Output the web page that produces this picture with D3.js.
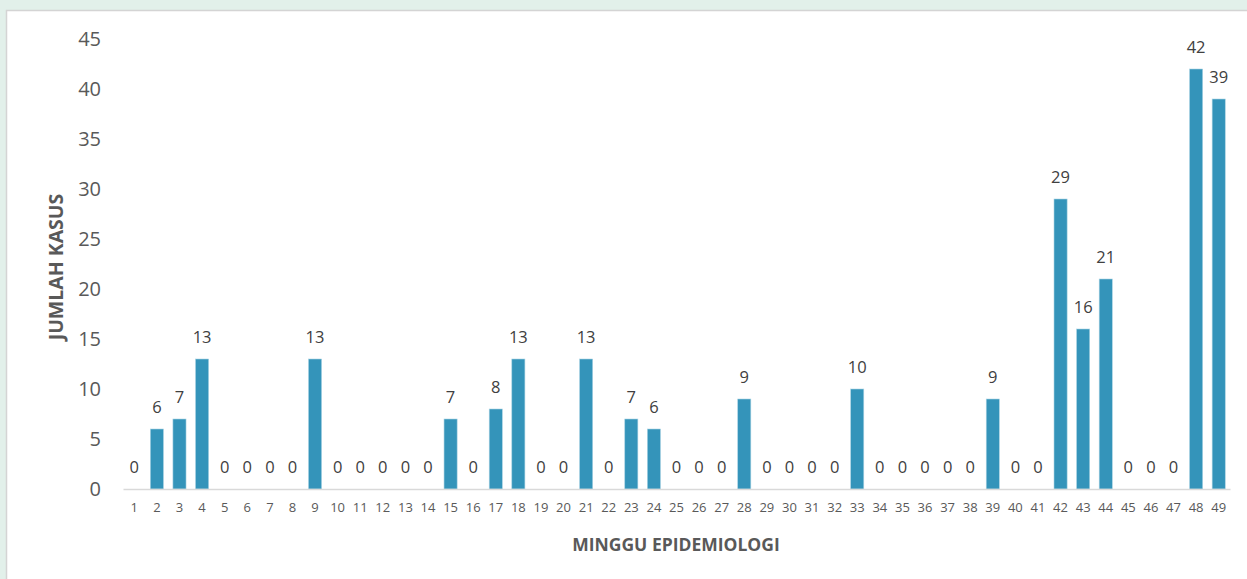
<!DOCTYPE html>
<html>
<head>
<meta charset="utf-8">
<script src="https://cdn.jsdelivr.net/npm/d3@7"></script>
<style>
  html, body { margin: 0; padding: 0; background: #e2f0ea; }
  svg { display: block; }
</style>
</head>
<body>
<script>
// Weekly case counts per epidemiological week
const weeks = d3.range(1, 50).map(String);
const cases = [0, 6, 7, 13, 0, 0, 0, 0, 13, 0, 0, 0, 0, 0, 7, 0, 8, 13, 0, 0,
               13, 0, 7, 6, 0, 0, 0, 9, 0, 0, 0, 0, 10, 0, 0, 0, 0, 0, 9, 0,
               0, 29, 16, 21, 0, 0, 0, 42, 39];
const yTicks = [0, 5, 10, 15, 20, 25, 30, 35, 40, 45];
const xTitle = "MINGGU EPIDEMIOLOGI";
const yTitle = "JUMLAH KASUS";

const W = 1247, H = 579;
const font = "'Open Sans', 'Liberation Sans', sans-serif";

const svg = d3.select("body").append("svg")
  .attr("width", W).attr("height", H);

// page background and chart panel
svg.append("rect").attr("width", W).attr("height", H).attr("fill", "#e2f0ea");
svg.append("rect")
  .attr("x", 6.5).attr("y", 10.5)
  .attr("width", W + 10).attr("height", H + 10)
  .attr("fill", "#ffffff")
  .attr("stroke", "#d4d4d4").attr("stroke-width", 1.5);

const x = d3.scaleBand().domain(weeks).range([123, 1230]).paddingInner(0.42).paddingOuter(0.21);
const y = d3.scaleLinear().domain([0, 45]).range([489, 39]);

// y axis labels (no line)
const yAxis = svg.append("g")
  .attr("transform", "translate(101,0)")
  .call(d3.axisLeft(y).tickValues(yTicks).tickSize(0).tickPadding(0));
yAxis.select(".domain").remove();
yAxis.selectAll("text")
  .attr("font-family", font).attr("font-size", 20).attr("fill", "#595959");

// bars
svg.append("g").selectAll("rect")
  .data(cases)
  .join("rect")
  .attr("x", (d, i) => x(weeks[i]))
  .attr("y", d => y(d))
  .attr("width", x.bandwidth())
  .attr("height", d => y(0) - y(d))
  .attr("fill", "#3494ba")
  .attr("stroke", "#a9d3e3").attr("stroke-width", 0.6);

// x axis
const xAxis = svg.append("g")
  .attr("transform", `translate(0,${y(0)})`)
  .call(d3.axisBottom(x).tickSize(0).tickPadding(14));
xAxis.select(".domain").attr("stroke", "#d9d9d9").attr("stroke-width", 1.5);
xAxis.selectAll("text")
  .attr("font-family", font).attr("font-size", 13).attr("fill", "#595959");

// data labels
svg.append("g").selectAll("text")
  .data(cases)
  .join("text")
  .attr("x", (d, i) => x(weeks[i]) + x.bandwidth() / 2)
  .attr("y", d => y(d) - 16)
  .attr("text-anchor", "middle")
  .attr("font-family", font).attr("font-size", 16.5).attr("fill", "#404040")
  .text(d => d);

// axis titles
svg.append("text")
  .attr("x", 676).attr("y", 551)
  .attr("text-anchor", "middle")
  .attr("font-family", font).attr("font-size", 17.5).attr("font-weight", "bold")
  .attr("fill", "#595959")
  .text(xTitle);

svg.append("text")
  .attr("transform", "translate(63,267) rotate(-90)")
  .attr("text-anchor", "middle")
  .attr("font-family", font).attr("font-size", 19.5).attr("font-weight", "bold")
  .attr("fill", "#595959")
  .text(yTitle);
</script>
</body>
</html>
